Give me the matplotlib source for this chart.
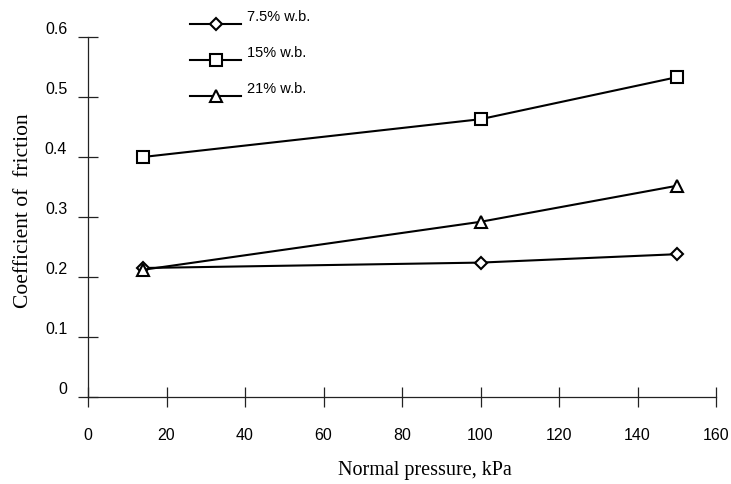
import numpy as np
import matplotlib
matplotlib.use('Agg')
import matplotlib.pyplot as plt

# data
pressure = [14, 100, 150]
cof_75 = [0.215, 0.224, 0.238]
cof_15 = [0.400, 0.463, 0.533]
cof_21 = [0.212, 0.292, 0.352]
labels = ['7.5% w.b.', '15% w.b.', '21% w.b.']
xticks = [0, 20, 40, 60, 80, 100, 120, 140, 160]
yticks = [0, 0.1, 0.2, 0.3, 0.4, 0.5, 0.6]
ytick_labels = ['0', '0.1', '0.2', '0.3', '0.4', '0.5', '0.6']

fig = plt.figure(figsize=(7.31, 4.84), dpi=100)
ax = fig.add_axes([88/731, 87/484, 628/731, 360/484])

style = dict(color='black', linewidth=1.5, markerfacecolor='white',
             markeredgecolor='black', markeredgewidth=1.5)
ax.plot(pressure, cof_75, marker='D', markersize=6.5, label=labels[0], **style)
ax.plot(pressure, cof_15, marker='s', markersize=8.5, label=labels[1], **style)
ax.plot(pressure, cof_21, marker='^', markersize=8.5, label=labels[2], **style)

ax.set_xlim(0, 160)
ax.set_ylim(0, 0.6)
ax.set_xticks(xticks)
ax.set_yticks(yticks)
ax.set_yticklabels(ytick_labels)

for s in ['top', 'right']:
    ax.spines[s].set_visible(False)
for s in ['left', 'bottom']:
    ax.spines[s].set_color('#222222')
    ax.spines[s].set_linewidth(0.9)

ax.tick_params(axis='both', direction='inout', length=14, width=0.9,
               color='#222222', labelsize=11.5)
ax.tick_params(axis='x', pad=15.5)
ax.tick_params(axis='y', pad=8)
for t in ax.get_xticklabels() + ax.get_yticklabels():
    t.set_fontfamily('Liberation Sans')
for t in ax.get_yticklabels():
    t.set_verticalalignment('bottom')

ax.set_xlabel('Normal pressure, kPa', fontfamily='Liberation Serif', fontsize=14.5)
ax.xaxis.set_label_coords(0.536, -0.178)
ax.set_ylabel('Coefficient of  friction', fontfamily='Liberation Serif', fontsize=15.5)
ax.yaxis.set_label_coords(-0.088, 0.517)

leg = ax.legend(loc='upper left', bbox_to_anchor=(190/731, 1 - 18/484),
                bbox_transform=fig.transFigure, frameon=False,
                prop={'family': 'Liberation Sans', 'size': 10.5},
                handlelength=3.5, handletextpad=0.4, labelspacing=1.5,
                borderpad=0, borderaxespad=0)
for t in leg.get_texts():
    t.set_position((0, 8))

fig.savefig('out.png', dpi=100)
